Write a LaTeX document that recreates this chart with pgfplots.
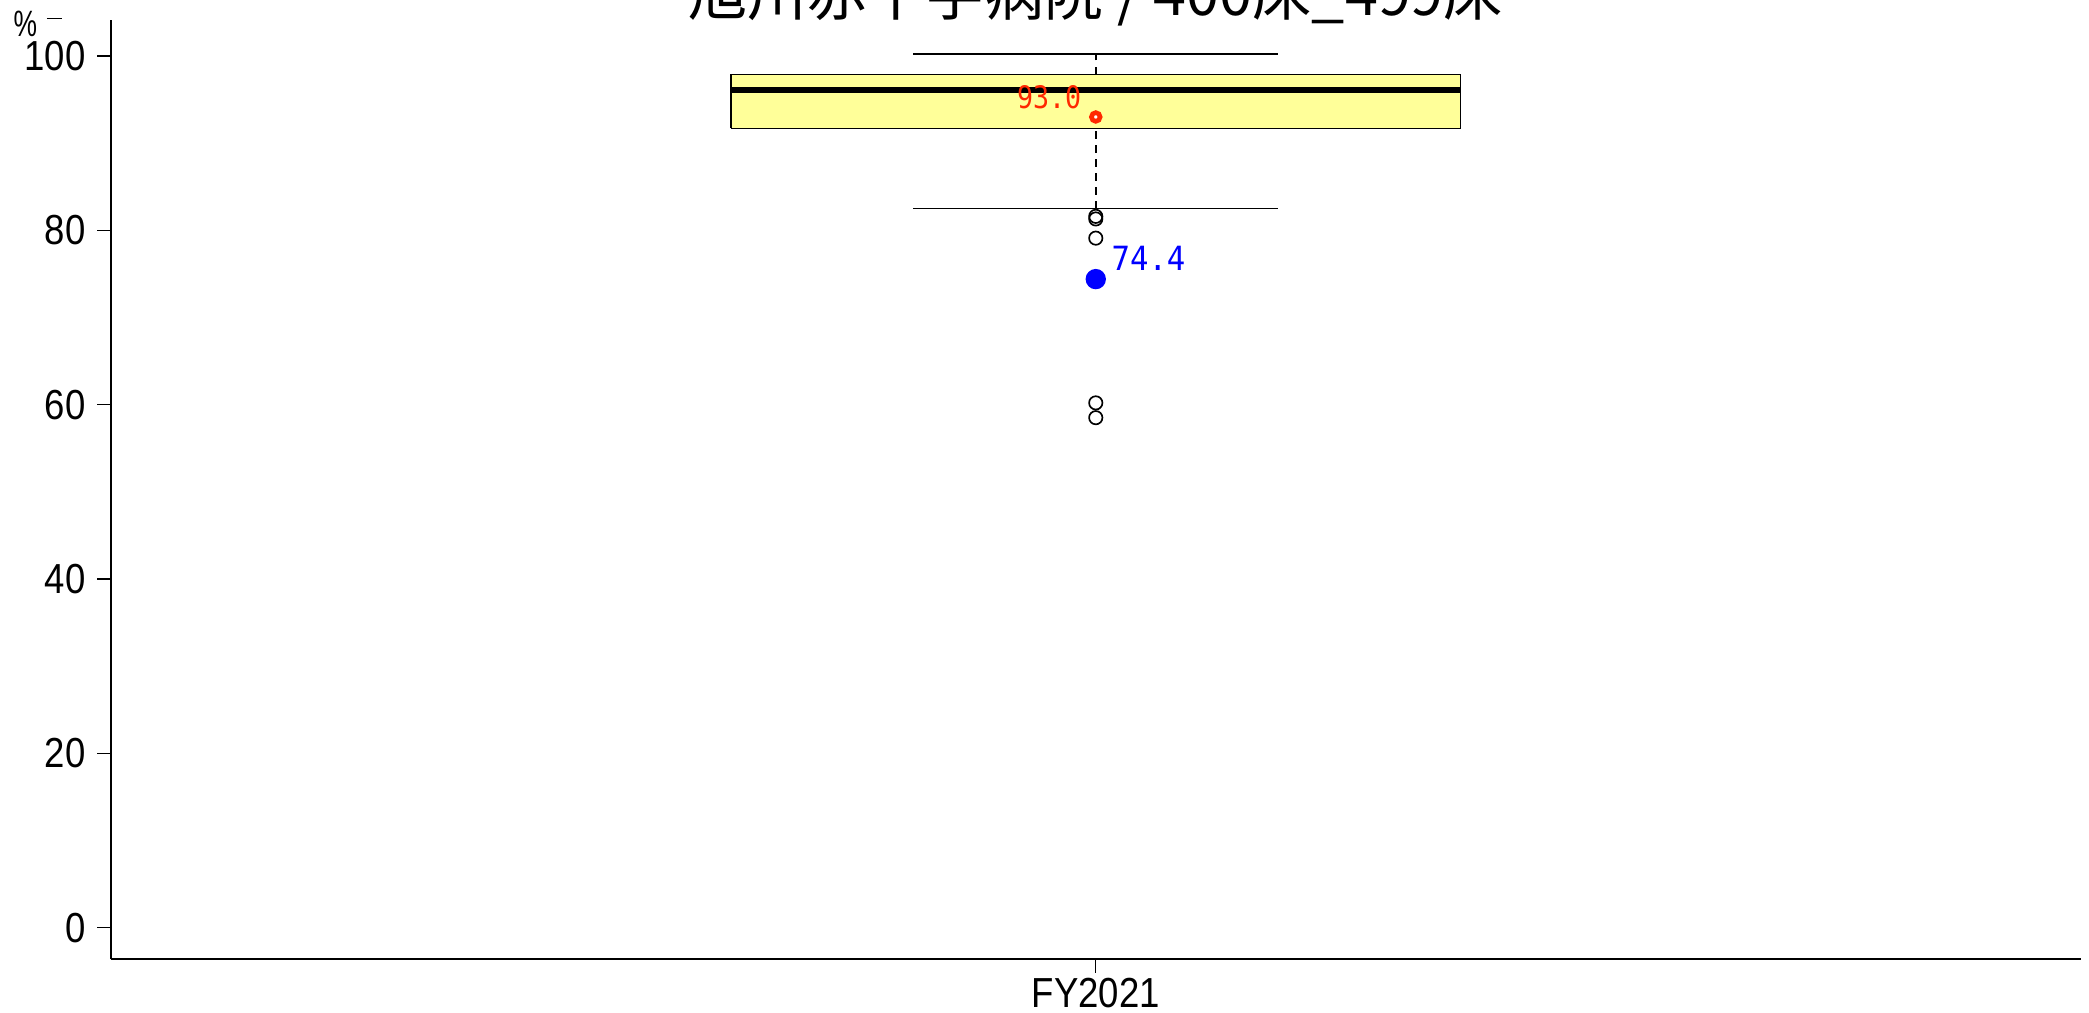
\documentclass[border=0pt]{standalone}
\usepackage{pgfplots}
\pgfplotsset{compat=1.18}
\usepackage{fontspec}
\setmainfont{Liberation Sans}
\newfontfamily\tickfont{Liberation Sans}[FakeStretch=0.87]
\newfontfamily\cjk{Noto Sans CJK JP}
\newfontfamily\monof{DejaVu Sans Mono}
\definecolor{boxfill}{RGB}{255,255,153}
\definecolor{myred}{RGB}{255,40,0}
\begin{document}
\begin{tikzpicture}
\useasboundingbox (-33.18pt,-15.81pt) rectangle (593.52pt,287.79pt);
\begin{axis}[
  scale only axis,
  width=591.1pt, height=281.8pt,
  at={(0,0)}, anchor=south west,
  xmin=0.46, xmax=1.54,
  ymin=-3.64, ymax=104.13,
  axis x line*=bottom, axis y line*=left,
  axis line style={line width=0.55pt},
  xtick={1}, xticklabels={FY2021},
  ytick={0,20,40,60,80,100},
  tick align=outside,
  major tick length=4pt,
  tick style={line width=0.4pt, black},
  tick label style={font=\tickfont\fontsize{12.6}{14}\selectfont},
  xticklabel style={yshift=2pt},
  /pgf/number format/assume math mode=true,
  clip=false,
]
% whiskers
\addplot[black, line width=0.5pt, dash pattern=on 2.2pt off 2pt] coordinates {(1,97.9) (1,100.2)};
\addplot[black, line width=0.5pt, dash pattern=on 2.2pt off 2pt] coordinates {(1,82.5) (1,91.7)};
\addplot[black, line width=0.5pt] coordinates {(0.9,100.2) (1.1,100.2)};
\addplot[black, line width=0.5pt] coordinates {(0.9,82.5) (1.1,82.5)};
% box
\addplot[draw=black, fill=boxfill, line width=0.45pt] coordinates {(0.8,91.7) (1.2,91.7) (1.2,97.9) (0.8,97.9) (0.8,91.7)};
% median
\addplot[black, line width=1.7pt] coordinates {(0.8,96.1) (1.2,96.1)};
% outliers
\addplot[only marks, mark=o, mark size=2.0pt, mark options={line width=0.5pt, black}] coordinates {(1,81.6) (1,81.3) (1,79.1) (1,60.2) (1,58.5)};
% highlighted values
\addplot[only marks, mark=*, mark size=2.85pt, mark options={blue, draw=blue, fill=blue}] coordinates {(1,74.4)};
\addplot[only marks, mark=*, mark size=1.3pt, mark options={draw=myred, fill=white, line width=1.4pt}] coordinates {(1,93.0)};
\node[anchor=base east, inner sep=0pt, text=myred, font=\monof\fontsize{9.3}{10}\selectfont] at (axis cs:0.9924,94.0) {\scalebox{0.86}[1]{93.0}};
\node[anchor=base west, inner sep=0pt, text=blue, font=\monof\fontsize{10}{11}\selectfont] at (axis cs:1.0083,75.44) {\scalebox{0.92}[1]{74.4}};
\end{axis}
\node[anchor=base, inner sep=0pt, font=\cjk\fontsize{17.8}{20}\selectfont] at (295.6pt,283pt) {旭川赤十字病院 / 400床\_499床};
\node[anchor=base west, inner sep=0pt, font=\fontsize{11}{12}\selectfont] at (-29.3pt,276.7pt) {\scalebox{0.72}[1]{\%}};
\draw[line width=0.35pt] (-19.1pt,282.2pt) -- (-14.6pt,282.2pt);
\end{tikzpicture}
\end{document}
